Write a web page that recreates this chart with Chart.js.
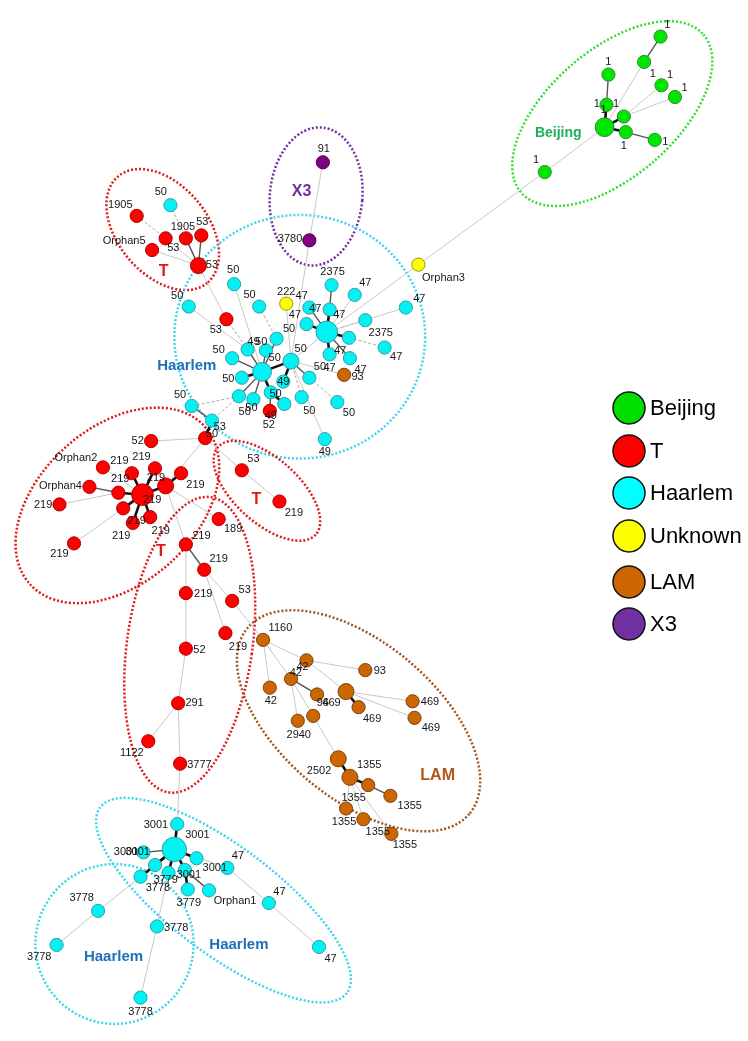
<!DOCTYPE html>
<html>
<head>
<meta charset="utf-8">
<script src="https://cdn.jsdelivr.net/npm/chart.js@4.4.0/dist/chart.umd.min.js"></script>
<style>html,body{margin:0;padding:0;background:#fff}canvas{display:block}</style>
</head>
<body>
<canvas id="netChart" width="748" height="1041"></canvas>
<script>
// lineages (legend order)
let groups = ['Beijing', 'T', 'Haarlem', 'Unknown', 'LAM', 'X3'];
let fillHex = ['#00e600', '#ff0000', '#00f2f2', '#ffff00', '#cc6600', '#800080'];
let edgeHex = ['#2e8b2e', '#b00000', '#3a9aa8', '#9a9a00', '#7a4010', '#4a004a'];
let legendHex = ['#00e000', '#ff0000', '#00ffff', '#ffff00', '#cc6600', '#7030a0'];

// nodes: id, lineage, x, y, isolates
let nodes = [
  ['b0','Beijing',613,117,3],['b1','Beijing',671,24,1],['b2','Beijing',654,50,1],['b3','Beijing',617,63,1],
  ['b4','Beijing',615,94,1],['b5','Beijing',672,74,1],['b6','Beijing',686,86,1],['b7','Beijing',633,106,1],
  ['b8','Beijing',635,122,1],['b9','Beijing',665,130,1],['b10','Beijing',551,163,1],

  ['t0','T',192,259,2],['t1','T',128,208,1],['t2','T',158,231,1],['t3','T',179,231,1],['t4','T',195,228,1],
  ['t5','T',144,243,1],['t6','T',221,314,1],['r50','T',199,436,1],['r49','T',266,408,1],
  ['rt0','T',134,494,4],['rt1','T',158,485,2],['rt2','T',143,439,1],['rt3','T',93,466,1],['rt4','T',123,472,1],
  ['rt5','T',147,467,1],['rt6','T',174,472,1],['rt7','T',79,486,1],['rt8','T',109,492,1],['rt9','T',48,504,1],
  ['rt10','T',114,508,1],['rt11','T',124,523,1],['rt12','T',142,517,1],['rt13','T',63,544,1],
  ['rm0','T',179,545,1],['rm1','T',198,571,1],['rm2','T',179,595,1],['rm3','T',227,603,1],['rm4','T',213,519,1],
  ['rm5','T',237,469,1],['rm6','T',276,501,1],['rm7','T',220,636,1],['rm8','T',179,652,1],['rm9','T',171,708,1],
  ['rm10','T',140,747,1],['rm11','T',173,770,1],

  ['ha','Haarlem',163,197,1],['hA','Haarlem',258,368,3],['hB','Haarlem',325,327,4],['hC','Haarlem',288,357,2],
  ['h1','Haarlem',229,278,1],['h2','Haarlem',182,301,1],['h3','Haarlem',255,301,1],['h4','Haarlem',307,302,1],
  ['h5','Haarlem',304,319,1],['h6','Haarlem',273,334,1],['h7','Haarlem',243,345,1],['h8','Haarlem',262,346,1],
  ['h9','Haarlem',227,354,1],['h10','Haarlem',280,378,1],['h11','Haarlem',237,374,1],['h12','Haarlem',234,393,1],
  ['h13','Haarlem',249,396,1],['h14','Haarlem',267,389,1],['h15','Haarlem',281,401,1],['h16','Haarlem',185,403,1],
  ['h17','Haarlem',206,418,1],['h18','Haarlem',299,394,1],['h19','Haarlem',307,374,1],['h20','Haarlem',336,399,1],
  ['h21','Haarlem',323,437,1],['h22','Haarlem',330,279,1],['h23','Haarlem',354,289,1],['h24','Haarlem',407,302,1],
  ['h25','Haarlem',328,304,1],['h26','Haarlem',365,315,1],['h27','Haarlem',348,333,1],['h28','Haarlem',385,343,1],
  ['h29','Haarlem',328,350,1],['h30','Haarlem',349,354,1],
  ['hb0','Haarlem',167,858,5],['hb1','Haarlem',170,832,1],['hb2','Haarlem',135,861,1],['hb3','Haarlem',190,867,1],
  ['hb4','Haarlem',147,874,1],['hb5','Haarlem',132,886,1],['hb6','Haarlem',161,882,1],['hb7','Haarlem',178,879,1],
  ['hb8','Haarlem',181,899,1],['hb9','Haarlem',203,900,1],['hb10','Haarlem',222,877,1],['hb11','Haarlem',265,913,1],
  ['hb12','Haarlem',317,958,1],['hb13','Haarlem',88,921,1],['hb14','Haarlem',45,956,1],['hb15','Haarlem',149,937,1],
  ['hb16','Haarlem',132,1010,1],

  ['u1','Unknown',420,258,1],['u2','Unknown',283,298,1],

  ['l93','LAM',343,371,1],['l0','LAM',259,643,1],['l1','LAM',304,664,1],['l2','LAM',288,683,1],['l3','LAM',266,692,1],
  ['l4','LAM',365,674,1],['l5','LAM',315,699,1],['l6','LAM',311,721,1],['l7','LAM',345,696,2],['l8','LAM',358,712,1],
  ['l9','LAM',414,706,1],['l10','LAM',416,723,1],['l11','LAM',295,726,1],['l12','LAM',337,765,2],['l13','LAM',349,784,2],
  ['l14','LAM',368,792,1],['l15','LAM',391,803,1],['l16','LAM',345,816,1],['l17','LAM',363,827,1],['l18','LAM',392,842,1],

  ['x1','X3',321,153,1],['x2','X3',307,233,1]
];

// links: from, to, allele distance (1 thick, 2 dark, 3 light, 4 dashed)
let edges = [
  ['b0','b4',1],['b0','b7',1],['b0','b8',1],['b8','b9',2],['b4','b3',2],['b0','b2',3],['b2','b1',2],['b7','b5',3],
  ['b7','b6',3],['b0','b10',3],['b10','u1',3],['u1','hB',3],
  ['x1','x2',3],['x2','hC',3],
  ['t1','t2',4],['t2','t0',3],['t5','t0',3],['t3','t0',2],['t4','t0',2],['ha','t3',4],['t0','t6',3],['t6','h7',4],
  ['hA','hC',1],['hA','h7',2],['hA','h8',2],['hA','h9',2],['hA','h11',1],['hA','h12',2],['hA','h13',2],['hA','h14',1],
  ['hC','h10',1],['hA','h1',3],['h2','h7',3],['h3','h6',4],['h6','hA',2],['u2','hC',3],['h4','hB',2],['h5','hB',1],
  ['hC','hB',3],['hC','h18',4],['hC','l93',3],['h19','h20',4],['hC','h19',2],['hC','h21',3],['h22','h25',2],
  ['h25','hB',1],['hB','h23',3],['hB','h24',3],['hB','h26',4],['hB','h27',1],['h27','h28',4],['hB','h29',1],
  ['hB','h30',2],['h14','h15',1],['h14','r49',2],['h12','h16',4],['h12','h17',4],['h16','h17',2],['h17','r50',1],
  ['r50','rt2',3],['r50','rt1',3],['r50','rm5',3],['rm5','rm6',3],['rt0','rt1',1],['rt1','rt6',1],['rt0','rt4',1],
  ['rt0','rt5',1],['rt0','rt8',1],['rt0','rt10',1],['rt0','rt11',1],['rt0','rt12',1],['rt3','rt0',3],['rt7','rt8',2],
  ['rt9','rt8',3],['rt13','rt10',3],['rt1','rm4',3],['rt1','rm0',3],['rm0','rm1',2],['rm0','rm2',3],['rm1','rm3',3],
  ['rm1','rm7',3],['rm3','l0',3],['rm2','rm8',3],['rm8','rm9',3],['rm9','rm10',3],['rm9','rm11',3],['rm11','hb1',3],
  ['l0','l1',3],['l0','l2',3],['l0','l3',3],['l1','l4',3],['l1','l7',3],['l2','l5',2],['l2','l11',3],['l2','l6',3],
  ['l6','l12',3],['l7','l8',1],['l7','l9',3],['l7','l10',3],['l12','l13',1],['l13','l14',1],['l14','l15',2],
  ['l13','l16',3],['l13','l17',3],['l13','l18',3],
  ['hb0','hb1',1],['hb0','hb2',2],['hb0','hb3',1],['hb0','hb4',1],['hb0','hb5',1],['hb0','hb6',1],['hb0','hb7',1],
  ['hb7','hb8',1],['hb7','hb9',2],['hb0','hb10',3],['hb10','hb11',3],['hb11','hb12',3],['hb5','hb13',3],
  ['hb13','hb14',3],['hb6','hb15',3],['hb15','hb16',3]
];

// SIT / orphan tags
let tags = [
  ['1',678,12],['1',663,62],['1',617,50],['1',605,93],['1',625,93],['1',612,99],['1',681,63],['1',696,77],
  ['1',633,136],['1',676,132],['1',542,151],
  ['50',153,183],['1905',111,197],['1905',176,219],['53',196,214],['Orphan5',115,234],['53',166,241],['53',206,258],
  ['50',228,263],['50',170,290],['50',245,289],['222',283,286],['47',299,290],['47',292,310],['53',210,325],
  ['50',286,324],['49',249,337],['50',257,337],['50',298,344],['50',213,346],['50',271,354],['50',223,375],
  ['49',280,378],['50',173,392],['50',272,391],['50',247,405],['50',240,409],['49',267,413],['52',265,422],
  ['53',214,425],['50',206,432],['50',307,408],['50',348,410],['49',323,450],
  ['2375',331,265],['47',365,277],['47',421,293],['47',313,303],['47',338,310],['2375',381,328],['47',397,353],
  ['47',339,347],['47',328,364],['50',318,363],['47',360,366],['93',357,373],['Orphan3',446,272],['91',322,139],
  ['3780',287,232],
  ['52',129,439],['Orphan2',65,456],['219',110,459],['219',133,455],['219',148,477],['219',111,478],
  ['Orphan4',49,485],['219',189,484],['219',144,499],['219',31,505],['219',128,521],['219',153,531],
  ['219',112,536],['219',48,555],
  ['53',249,457],['219',291,513],['189',228,529],['219',195,536],['219',213,560],['219',197,596],['53',240,592],
  ['219',233,650],['52',193,653],['291',188,708],['1122',123,759],['3777',193,771],
  ['1160',277,631],['42',300,671],['42',293,677],['42',267,706],['93',380,675],['96',321,708],['469',330,708],
  ['469',372,724],['469',432,707],['469',433,733],['2940',296,741],['2502',317,777],['1355',369,771],
  ['1355',411,813],['1355',353,805],['1355',343,830],['1355',378,840],['1355',406,853],
  ['3001',148,833],['3001',191,843],['3001',117,861],['3001',129,861],['3001',209,877],['3001',182,884],
  ['47',233,865],['3779',158,889],['3778',150,898],['3779',182,913],['Orphan1',230,911],['47',276,902],
  ['47',329,970],['3778',71,908],['3778',27,968],['3778',169,939],['3778',132,1025]
];

// cluster outlines: lineage, cx, cy, rx, ry, rotation (deg)
let hulls = [
  ['Beijing',621,103,125,65,-41],
  ['T',155,222,72,46,50],
  ['X3',314,188,48,71,5],
  ['Haarlem',297,332,130,125,0],
  ['T',108,505,122,80,-42],
  ['T',263,490,68,33,42],
  ['T',183,648,65,153,8],
  ['LAM',358,726,150,80,40],
  ['Haarlem',105,955,82,82,0],
  ['Haarlem',218,910,160,55,37]
];
let hullHex = {Beijing:'#33dd33', T:'#e01818', X3:'#7030a0', Haarlem:'#3dd5ee', LAM:'#a0561e'};

let clusterNames = [
  ['Beijing',565,123,'#1fae5a',14],['T',156,265,'#e01818',16],['X3',299,183,'#7030a0',16],
  ['Haarlem',180,362,'#1e6fb8',15],['T',153,552,'#e01818',16],['T',252,499,'#e01818',16],
  ['LAM',440,782,'#b0561a',16],['Haarlem',104,968,'#1e6fb8',15],['Haarlem',234,956,'#1e6fb8',15]
];

let byId = {};
nodes.forEach(n => { byId[n[0]] = n; });
let radiusOf = w => 6.6 + 1.4 * (w - 1);

let datasets = groups.map((g, i) => {
  let members = nodes.filter(n => n[1] === g);
  return {
    label: g,
    data: members.map(n => ({x: n[2], y: n[3]})),
    pointRadius: members.map(n => radiusOf(n[4])),
    pointHoverRadius: members.map(n => radiusOf(n[4])),
    pointBackgroundColor: fillHex[i],
    pointBorderColor: edgeHex[i],
    pointBorderWidth: 1,
    showLine: false,
    clip: false
  };
});

let edgeStyle = {
  1: {color: '#111', width: 2.6, dash: []},
  2: {color: '#555', width: 1.4, dash: []},
  3: {color: '#c8c8c8', width: 1, dash: []},
  4: {color: '#b0a4a4', width: 1, dash: [3, 2]}
};

let netPlugin = {
  id: 'net',
  beforeDatasetsDraw(chart) {
    let {ctx, scales: {x, y}} = chart;
    ctx.save();
    hulls.forEach(h => {
      let cx = x.getPixelForValue(h[1]), cy = y.getPixelForValue(h[2]);
      let rx = Math.abs(x.getPixelForValue(h[1] + h[3]) - cx);
      let ry = Math.abs(y.getPixelForValue(h[2] + h[4]) - cy);
      ctx.beginPath();
      ctx.ellipse(cx, cy, rx, ry, h[5] * Math.PI / 180, 0, Math.PI * 2);
      ctx.strokeStyle = hullHex[h[0]];
      ctx.lineWidth = 2.5;
      ctx.setLineDash([2, 2]);
      ctx.stroke();
    });
    // draw light links first so thick ones sit on top
    [4, 3, 2, 1].forEach(d => {
      let s = edgeStyle[d];
      ctx.strokeStyle = s.color;
      ctx.lineWidth = s.width;
      ctx.setLineDash(s.dash);
      edges.filter(e => e[2] === d).forEach(e => {
        let a = byId[e[0]], b = byId[e[1]];
        ctx.beginPath();
        ctx.moveTo(x.getPixelForValue(a[2]), y.getPixelForValue(a[3]));
        ctx.lineTo(x.getPixelForValue(b[2]), y.getPixelForValue(b[3]));
        ctx.stroke();
      });
    });
    ctx.restore();
  },
  afterDatasetsDraw(chart) {
    let {ctx, scales: {x, y}} = chart;
    ctx.save();
    ctx.textAlign = 'center';
    ctx.textBaseline = 'middle';
    ctx.font = '11px Arial, "Liberation Sans", sans-serif';
    ctx.fillStyle = '#151515';
    tags.forEach(t => ctx.fillText(t[0], x.getPixelForValue(t[1]), y.getPixelForValue(t[2])));
    clusterNames.forEach(c => {
      ctx.font = 'bold ' + c[4] + 'px Arial, "Liberation Sans", sans-serif';
      ctx.fillStyle = c[3];
      ctx.fillText(c[0], x.getPixelForValue(c[1]), y.getPixelForValue(c[2]));
    });
    // legend
    ctx.textAlign = 'left';
    ctx.font = '22px Arial, "Liberation Sans", sans-serif';
    let rows = [408, 451, 493, 536, 582, 624];
    groups.forEach((g, i) => {
      ctx.beginPath();
      ctx.arc(629, rows[i], 16, 0, Math.PI * 2);
      ctx.fillStyle = legendHex[i];
      ctx.fill();
      ctx.lineWidth = 1.5;
      ctx.strokeStyle = '#111';
      ctx.stroke();
      ctx.fillStyle = '#000';
      ctx.fillText(g, 650, rows[i] + 1);
    });
    ctx.restore();
  }
};

new Chart(document.getElementById('netChart').getContext('2d'), {
  type: 'scatter',
  data: {datasets: datasets},
  options: {
    responsive: false,
    animation: false,
    events: [],
    layout: {padding: 0},
    scales: {
      x: {type: 'linear', min: 0, max: 748, display: false},
      y: {type: 'linear', min: 0, max: 1041, reverse: true, display: false}
    },
    plugins: {legend: {display: false}, tooltip: {enabled: false}}
  },
  plugins: [netPlugin]
});
</script>
</body>
</html>
